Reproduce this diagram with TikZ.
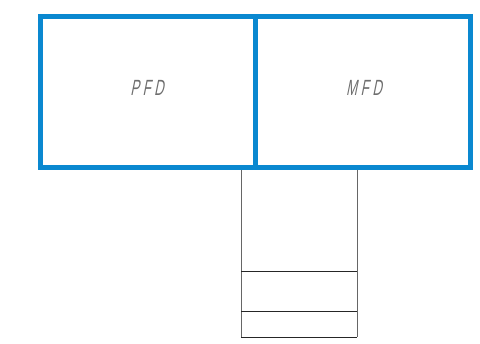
\documentclass[tikz,border=0pt]{standalone}
\usepackage{fontspec}
\newfontfamily\condfont[FakeStretch=0.6,FakeSlant=0.2,LetterSpace=16]{Liberation Sans}
\definecolor{panelblue}{HTML}{0A88D0}
\definecolor{labelgray}{HTML}{6E6E6E}
\definecolor{sidegray}{HTML}{666666}
\tikzset{
  panel/.style={draw=panelblue,line width=5pt,line join=miter,outer sep=0pt,inner sep=0pt},
  label/.style={font=\condfont\fontsize{22}{22}\selectfont,text=labelgray,inner sep=0pt},
  sideline/.style={draw=sidegray,line width=1pt},
  shelf/.style={draw=black!85,line width=1pt}
}
\begin{document}
\begin{tikzpicture}[x=1pt,y=-1pt]
\useasboundingbox (0,0) rectangle (480,344);
% lower stack
\coordinate (tl) at (241,168);
\coordinate (tr) at (357,168);
\coordinate (bl) at (241,337.5);
\coordinate (br) at (357,337.5);
\coordinate (m1l) at (241,272);
\coordinate (m1r) at (357,272);
\coordinate (m2l) at (241,312);
\coordinate (m2r) at (357,312);
\draw[sideline] (tl) -- (bl);
\draw[sideline] (tr) -- (br);
\draw[shelf] (m1l) -- (m1r);
\draw[shelf] (m2l) -- (m2r);
\draw[shelf] (bl) -- (br);
% panels
\node[panel,minimum width=215pt,minimum height=150.5pt,anchor=north west] (pfd) at (40,16.7) {};
\node[panel,minimum width=215.5pt,minimum height=150.5pt,anchor=north west] (mfd) at (255,16.7) {};
\node[label] (pfdl) at (147,88) {PFD};
\node[label] (mfdl) at (364,88) {MFD};
\end{tikzpicture}
\end{document}
